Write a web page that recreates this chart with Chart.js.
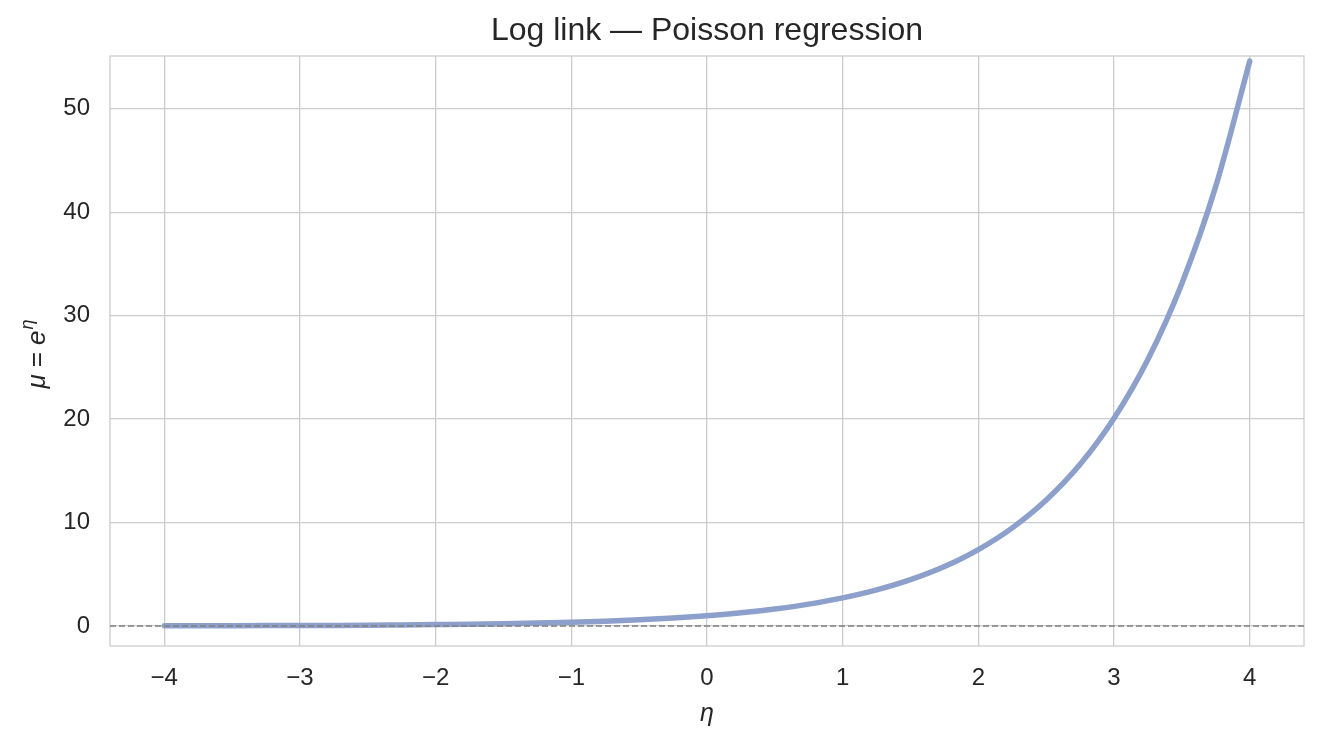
<!DOCTYPE html>
<html>
<head>
<meta charset="utf-8">
<title>Log link — Poisson regression</title>
<script src="https://cdn.jsdelivr.net/npm/chart.js@4"></script>
<style>
  html, body { margin: 0; padding: 0; background: #ffffff; }
  #chart { display: block; }
</style>
</head>
<body>
<canvas id="chart" width="1322" height="744"></canvas>
<script>
// Linear predictor eta (x) and mean mu
const etaValues = [-4, -3.75, -3.5, -3.25, -3, -2.75, -2.5, -2.25, -2, -1.75, -1.5, -1.25, -1, -0.75, -0.5, -0.25,
    0, 0.25, 0.5, 0.75, 1, 1.25, 1.5, 1.75, 2, 2.25, 2.5, 2.75, 3, 3.25, 3.5, 3.75, 4];
const muValues = [0.02, 0.02, 0.03, 0.04, 0.05, 0.06, 0.08, 0.11, 0.14, 0.17, 0.22, 0.29, 0.37, 0.47, 0.61, 0.78,
    1.0, 1.28, 1.65, 2.12, 2.72, 3.49, 4.48, 5.75, 7.39, 9.49, 12.18, 15.64, 20.09, 25.79, 33.12, 42.52, 54.6];

// Reference line at mu = 0
const refLineX = [-4.4, 4.4];
const refLineY = [0, 0];

// Tick labels
const xTicks = [-4, -3, -2, -1, 0, 1, 2, 3, 4];
const yTicks = [0, 10, 20, 30, 40, 50];

const TEXT = '#262626';
const GRID = '#cccccc';
const FONT = "'Liberation Sans', Arial, sans-serif";

// Frame around the plot area and the y axis label with a superscript
const framePlugin = {
    id: 'frame',
    beforeDatasetsDraw(chart) {
        const { ctx, chartArea: a } = chart;
        ctx.save();
        ctx.strokeStyle = GRID;
        ctx.lineWidth = 1.3;
        ctx.strokeRect(a.left, a.top, a.right - a.left, a.bottom - a.top);
        ctx.restore();
    },
    afterDraw(chart) {
        const { ctx, chartArea: a } = chart;
        const cy = (a.top + a.bottom) / 2 + 3;
        ctx.save();
        ctx.translate(38, cy);
        ctx.rotate(-Math.PI / 2);
        ctx.fillStyle = TEXT;
        ctx.textBaseline = 'middle';
        ctx.textAlign = 'left';
        const main = 'italic 26px ' + FONT;
        const plain = '26px ' + FONT;
        const sup = 'italic 18px ' + FONT;
        // gap = extra spacing after the piece, like mathtext spacing round "="
        const parts = [
            { t: '\u03bc', f: main, dy: 0, gap: 7 },
            { t: '=', f: plain, dy: 0, gap: 7 },
            { t: 'e', f: main, dy: 0, gap: 1 },
            { t: '\u03b7', f: sup, dy: -10, gap: 0 }
        ];
        let total = 0;
        parts.forEach(p => { ctx.font = p.f; p.w = ctx.measureText(p.t).width; total += p.w + p.gap; });
        let x = -total / 2;
        parts.forEach(p => {
            ctx.font = p.f;
            ctx.fillText(p.t, x, p.dy);
            x += p.w + p.gap;
        });
        ctx.restore();
    }
};

new Chart(document.getElementById('chart'), {
    type: 'scatter',
    data: {
        datasets: [
            {
                label: 'zero',
                data: refLineX.map((x, i) => ({ x: x, y: refLineY[i] })),
                showLine: true,
                borderColor: '#808080',
                borderWidth: 1.5,
                borderDash: [6, 3],
                pointRadius: 0,
                order: 0
            },
            {
                label: 'mu',
                data: etaValues.map((x, i) => ({ x: x, y: muValues[i] })),
                showLine: true,
                borderColor: '#8da0cb',
                borderWidth: 5.5,
                borderCapStyle: 'round',
                borderJoinStyle: 'round',
                cubicInterpolationMode: 'monotone',
                pointRadius: 0,
                order: 1
            }
        ]
    },
    options: {
        responsive: false,
        animation: false,
        devicePixelRatio: 1,
        layout: { padding: { left: 0, right: 18, top: 0, bottom: 0 } },
        plugins: {
            legend: { display: false },
            tooltip: { enabled: false },
            title: {
                display: true,
                fullSize: false,
                text: 'Log link — Poisson regression',
                color: TEXT,
                font: { family: FONT, size: 32, weight: 'normal', lineHeight: 1.2 },
                padding: { top: 12, bottom: 5.6 }
            }
        },
        scales: {
            x: {
                type: 'linear',
                min: -4.4,
                max: 4.4,
                afterBuildTicks: scale => { scale.ticks = xTicks.map(v => ({ value: v })); },
                afterFit: scale => { scale.height = 98; },
                grid: { color: GRID, lineWidth: 1.3, drawTicks: false },
                border: { display: false },
                ticks: {
                    color: TEXT,
                    padding: 18,
                    font: { family: FONT, size: 24 },
                    callback: v => (v < 0 ? '\u2212' + Math.abs(v) : String(v))
                },
                title: {
                    display: true,
                    text: '\u03b7',
                    color: TEXT,
                    font: { family: FONT, size: 25, style: 'italic' },
                    padding: { top: 0, bottom: 15 }
                }
            },
            y: {
                type: 'linear',
                min: -1.93,
                max: 55.1,
                afterBuildTicks: scale => { scale.ticks = yTicks.map(v => ({ value: v })); },
                afterFit: scale => { scale.width = 110; },
                grid: { color: GRID, lineWidth: 1.3, drawTicks: false },
                border: { display: false },
                ticks: {
                    color: TEXT,
                    padding: 20,
                    font: { family: FONT, size: 24 }
                }
            }
        }
    },
    plugins: [framePlugin]
});
</script>
</body>
</html>
